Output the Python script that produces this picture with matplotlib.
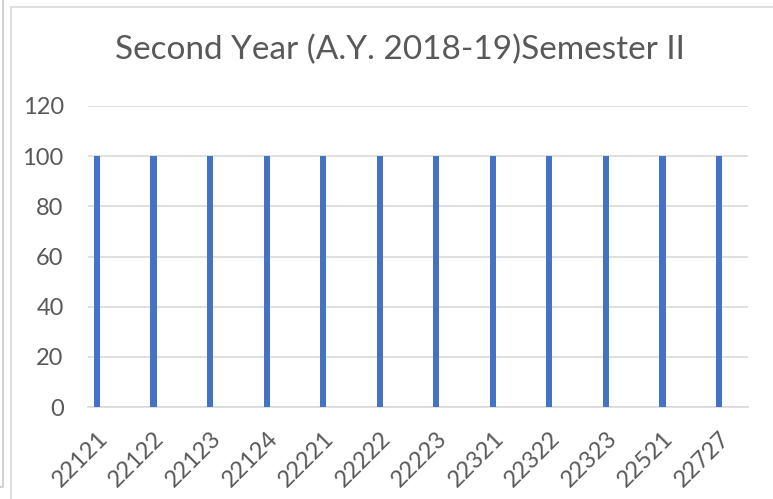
import matplotlib
matplotlib.use("Agg")
import matplotlib.pyplot as plt
from matplotlib.lines import Line2D
from matplotlib.transforms import ScaledTranslation

categories = ["22121", "22122", "22123", "22124", "22221", "22222",
              "22223", "22321", "22322", "22323", "22521", "22727"]
values = [100, 100, 100, 100, 100, 100, 100, 100, 100, 100, 100, 100]
yticks = [0, 20, 40, 60, 80, 100, 120]
title = "Second Year (A.Y. 2018-19)Semester II"

W, H = 773, 499
fig = plt.figure(figsize=(W / 100, H / 100), dpi=100)
plt.rcParams['font.family'] = ['Lato', 'DejaVu Sans']

ax = fig.add_axes([88 / W, (H - 407) / H, (748 - 88) / W, (407 - 106) / H])
x = list(range(len(categories)))
ax.bar(x, values, width=0.11, color="#4472C4", zorder=3)
ax.set_ylim(0, 120)
ax.set_xlim(-9 / 56.5, 11 + 29 / 56.5)
ax.set_yticks(yticks)
ax.set_yticklabels([str(v) for v in yticks], fontsize=17, color="#595959")
ax.set_xticks(x)
ax.set_xticklabels(categories, rotation=45, ha="right", va="top",
                   rotation_mode="anchor", fontsize=17, color="#595959")
shift = ScaledTranslation(5 / 100, 0, fig.dpi_scale_trans)
for lab in ax.get_xticklabels():
    lab.set_transform(lab.get_transform() + shift)
ax.tick_params(axis="both", length=0)
ax.tick_params(axis="y", pad=17.5)
ax.tick_params(axis="x", pad=15)
ax.grid(axis="y", color="#D9D9D9", linewidth=1.2, zorder=0)
for s in ["top", "right", "left"]:
    ax.spines[s].set_visible(False)
ax.spines["bottom"].set_color("#D9D9D9")
ax.spines["bottom"].set_linewidth(1.2)

fig.text(400 / W, 1 - 50 / H, title, ha="center", va="center",
         fontsize=24, color="#595959")

# chart border lines
fig.add_artist(Line2D([11 / W, 11 / W, 1], [0, 1 - 7 / H, 1 - 7 / H],
                      color="#D9D9D9", linewidth=1.2, transform=fig.transFigure))
fig.add_artist(Line2D([0, 3 / W, 3 / W], [1 - 487 / H, 1 - 487 / H, 1],
                      color="#C8C8C8", linewidth=1.2, transform=fig.transFigure))

fig.savefig("out.png", dpi=100)
